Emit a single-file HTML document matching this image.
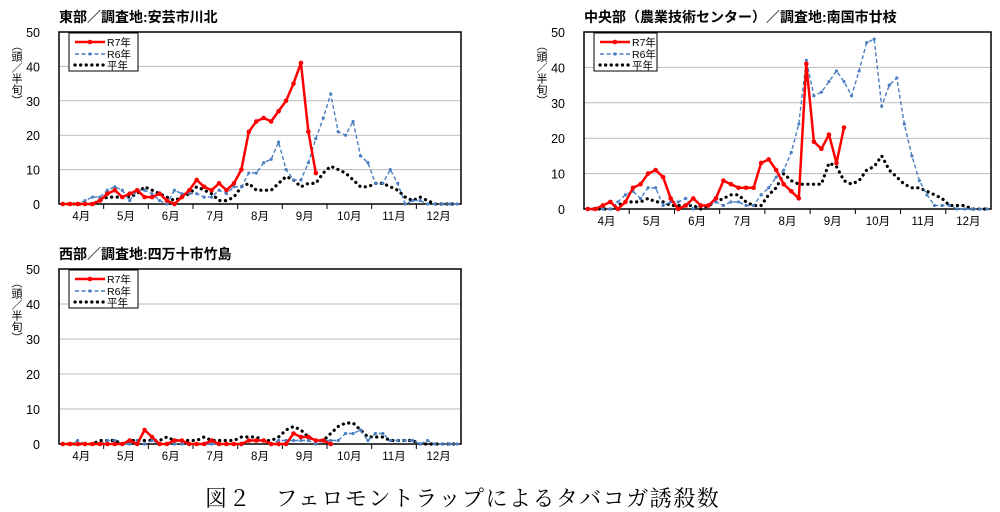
<!DOCTYPE html>
<html><head><meta charset="utf-8"><style>
body{margin:0;background:#fff;width:1000px;height:512px;overflow:hidden;position:relative}
svg{position:absolute;left:0;top:0}
text{font-family:"Liberation Sans","Noto Sans CJK JP",sans-serif}
.vl{position:absolute;width:14px;font:11px/12px "Liberation Sans","Noto Sans CJK JP",sans-serif;writing-mode:vertical-rl;text-orientation:upright;color:#000}
</style></head><body>
<svg id="s" width="1000" height="512" xmlns="http://www.w3.org/2000/svg"></svg>
<div class="vl" style="left:8px;top:40px">（頭／半旬）</div>
<div class="vl" style="left:533px;top:40px">（頭／半旬）</div>
<div class="vl" style="left:8px;top:277px">（頭／半旬）</div>
<script>
const S=document.getElementById('s');let h='';
function chart(o){
 const {x0,x1,y0,y1,title,r7,r6,av}=o;
 const W=x1-x0,H=y1-y0,n=54,dx=W/n;
 const X=i=>x0+dx*(i+0.5),Y=v=>y1-v/50*H;
 h+=`<text x="${x0}" y="${y0-10}" font-size="14" font-weight="bold">${title}</text>`;
 for(let k=1;k<=4;k++)h+=`<line x1="${x0}" x2="${x1}" y1="${Y(k*10)}" y2="${Y(k*10)}" stroke="#bbb" stroke-width="1"/>`;
 for(let k=0;k<=5;k++)h+=`<text x="${x0-19}" y="${Y(k*10)+5}" font-size="12.5" text-anchor="end">${k*10}</text>`;
 h+=`<rect x="${x0}" y="${y0}" width="${W}" height="${H}" fill="none" stroke="#000" stroke-width="1.5"/>`;
 const ms=['4月','5月','6月','7月','8月','9月','10月','11月','12月'];
 for(let m=0;m<9;m++){const cx=x0+dx*(6*m+3);h+=`<text x="${cx}" y="${y1+16}" font-size="11.5" text-anchor="middle">${ms[m]}</text>`;
  if(m>0){const tx=x0+dx*6*m;h+=`<line x1="${tx}" x2="${tx}" y1="${y1}" y2="${y1+5}" stroke="#000"/>`;}}
 const pts=a=>a.map((v,i)=>X(i).toFixed(1)+','+Y(v).toFixed(1)).join(' ');
 h+=`<polyline points="${pts(av)}" fill="none" stroke="#000" stroke-width="3.2" stroke-dasharray="0.1 5.5" stroke-linecap="round"/>`;
 h+=`<polyline points="${pts(r6)}" fill="none" stroke="#4a7ec0" stroke-width="1.4" stroke-dasharray="4 2.5"/>`;
 r6.forEach((v,i)=>h+=`<circle cx="${X(i)}" cy="${Y(v)}" r="1.6" fill="#4a7ec0"/>`);
 h+=`<polyline points="${pts(r7)}" fill="none" stroke="#f00" stroke-width="2.5" stroke-linejoin="round"/>`;
 r7.forEach((v,i)=>h+=`<circle cx="${X(i)}" cy="${Y(v)}" r="2.3" fill="#f00"/>`);
 const lx=x0+10,ly=y0+1;
 h+=`<rect x="${lx}" y="${ly}" width="${o.lw||69}" height="38" fill="#fff" stroke="#000" stroke-width="1"/>`;
 h+=`<line x1="${lx+6}" x2="${lx+36}" y1="${ly+9}" y2="${ly+9}" stroke="#f00" stroke-width="2.5"/><circle cx="${lx+21}" cy="${ly+9}" r="2.3" fill="#f00"/>`;
 h+=`<line x1="${lx+6}" x2="${lx+36}" y1="${ly+21}" y2="${ly+21}" stroke="#4a7ec0" stroke-width="1.4" stroke-dasharray="4 2.5"/><circle cx="${lx+21}" cy="${ly+21}" r="1.6" fill="#4a7ec0"/>`;
 h+=`<line x1="${lx+6}" x2="${lx+36}" y1="${ly+32}" y2="${ly+32}" stroke="#000" stroke-width="3.2" stroke-dasharray="0.1 5.5" stroke-linecap="round"/>`;
 [['R7年',9],['R6年',21],['平年',32]].forEach(([t,yy])=>h+=`<text x="${lx+38}" y="${ly+yy+4}" font-size="10.5">${t}</text>`);
}
chart({x0:59,x1:461,y0:32,y1:204,title:'東部／調査地:安芸市川北',
 r7:[0,0,0,0,0,1,3,4,2,3,4,2,2,3,1,0,2,4,7,5,4,6,4,6,10,21,24,25,24,27,30,35,41,21,9],
 r6:[0,0,0,1,2,2,4,5,4,1,4,4,3,1,0,4,3,3,3,2,2,4,3,5,5,9,9,12,13,18,10,7,7,12,19,25,32,21,20,24,14,12,6,6,10,6,0,1,1,0,0,0,0,0],
 av:[0,0,0,0,0,1,2,2,2,2,3,5,4,3,2,1,2,3,5,4,3,1,1,2,5,6,4,4,4,6,8,7,5,6,6,9,11,10,9,7,5,5,6,6,5,4,2,1,2,1,0,0,0,0]});
chart({x0:584,x1:991,y0:32,y1:209,title:'中央部（農業技術センター）／調査地:南国市廿枝',lw:63,
 r7:[0,0,1,2,0,2,6,7,10,11,9,3,0,1,3,1,1,3,8,7,6,6,6,13,14,11,7,5,3,41,19,17,21,13,23],
 r6:[0,0,0,0,2,4,5,3,6,6,1,2,2,3,0,1,1,2,1,2,2,1,1,4,6,9,11,16,24,42,32,33,36,39,36,32,39,47,48,29,35,37,24,15,8,4,1,1,1,0,0,0,0,0],
 av:[0,0,0,0,1,2,2,2,3,2,2,1,1,1,1,0,1,2,3,4,4,2,1,1,4,6,10,8,7,7,7,7,13,12,8,7,8,11,12,15,11,9,7,6,6,5,4,3,1,1,1,0,0,0]});
chart({x0:59,x1:461,y0:269,y1:444,title:'西部／調査地:四万十市竹島',
 r7:[0,0,0,0,0,0,0,0,0,1,0,4,2,0,0,1,1,0,0,0,1,0,0,0,0,1,1,1,0,0,0,3,2,2,1,1,0],
 r6:[0,0,1,0,0,0,1,1,0,0,1,0,1,0,0,0,0,0,0,0,0,0,0,0,0,1,1,1,0,1,1,1,1,1,0,1,1,1,3,3,4,1,3,3,1,1,1,1,0,1,0,0,0,0],
 av:[0,0,0,0,0,1,1,1,0,1,1,1,1,1,2,1,1,1,1,2,1,1,1,1,2,2,2,1,1,2,4,5,4,2,1,1,3,5,6,6,4,2,2,2,1,1,1,1,0,0,0,0,0,0]});
h+=`<text x="205" y="506" font-size="22" letter-spacing="1.5" style="font-family:'Liberation Serif','Noto Serif CJK SC',serif">図２　フェロモントラップによるタバコガ誘殺数</text>`;
S.innerHTML=h;
</script>
</body></html>
